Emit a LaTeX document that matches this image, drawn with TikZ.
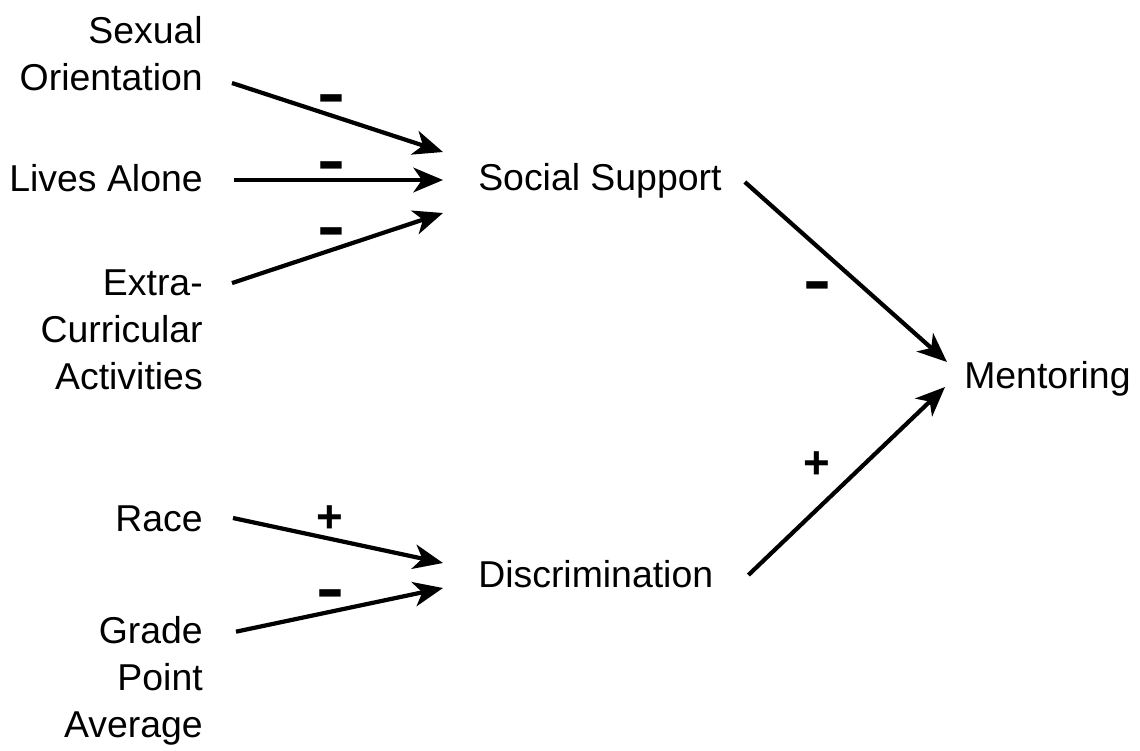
\documentclass[tikz,border=0pt]{standalone}
\usepackage{fontspec}
\setmainfont{Liberation Sans}
\usepackage{graphicx}
\usetikzlibrary{arrows.meta,calc}
\tikzset{
  var/.style={font=\fontsize{26.6}{33.4}\selectfont, inner sep=0pt, align=right},
  arr/.style={-{Stealth[length=21pt,width=17.5pt,inset=6pt]}, line width=3pt},
  sgn/.style={font=\fontsize{26}{30}\selectfont\bfseries, inner sep=0pt}
}
\newcommand{\msign}{\scalebox{2.3}[1.7]{-}}
\newcommand{\psign}{\scalebox{1.25}{+}}
\begin{document}
\begin{tikzpicture}[x=0.025cm, y=-0.025cm]
  \useasboundingbox (0,0) rectangle (1140,751);
  % predictors
  \node[var, anchor=base east] (so) at (203,90) {Sexual\\Orientation};
  \node[var, anchor=base east] (la) at (203,191) {Lives Alone};
  \node[var, anchor=base east] (ec) at (203,389) {Extra-\\Curricular\\Activities};
  \node[var, anchor=base east] (race) at (203,531) {Race};
  \node[var, anchor=base east] (gpa) at (203,737) {Grade\\Point\\Average};
  % mediators and outcome
  \node[var, anchor=base west] (ss) at (478,190) {Social Support};
  \node[var, anchor=base west] (disc) at (478,587) {Discrimination};
  \node[var, anchor=base west] (ment) at (964,388) {Mentoring};
  % paths
  \draw[arr] ($(so.base east)+(29,-7)$) -- ($(ss.base west)+(-35,-38)$);
  \draw[arr] ($(la.base east)+(31,-11)$) -- ($(ss.base west)+(-35,-10)$);
  \draw[arr] ($(ec.north east)+(29,14)$) -- ($(ss.base west)+(-35,23)$);
  \draw[arr] ($(ss.base east)+(23,-8)$) -- ($(ment.base west)+(-17,-26)$);
  \draw[arr] ($(race.base east)+(30,-13)$) -- ($(disc.base west)+(-35,-24)$);
  \draw[arr] ($(gpa.north east)+(33,16)$) -- ($(disc.base west)+(-35,1)$);
  \draw[arr] ($(disc.base east)+(35,-12)$) -- ($(ment.base west)+(-19,-1)$);
  % signs
  \node[sgn] (s1) at (331,105) {\msign};
  \node[sgn] (s2) at (331,172) {\msign};
  \node[sgn] (s3) at (331,238) {\msign};
  \node[sgn] (s4) at (817,292) {\msign};
  \node[sgn] (s5) at (817,465) {\psign};
  \node[sgn] (s6) at (330,519) {\psign};
  \node[sgn] (s7) at (330,600) {\msign};
\end{tikzpicture}
\end{document}
